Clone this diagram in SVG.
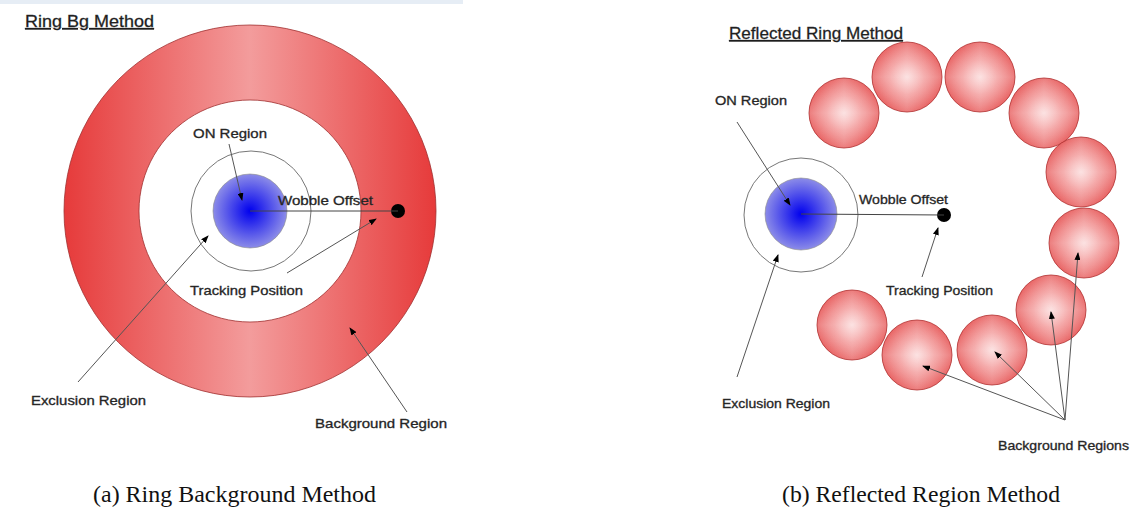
<svg xmlns="http://www.w3.org/2000/svg" width="1134" height="514" viewBox="0 0 1134 514">
<style>
.lbl{font-family:"Liberation Sans",Arial,sans-serif;font-size:13.5px;fill:#1a1a1a;stroke:#333;stroke-width:0.35;}
.ttl{font-family:"Liberation Sans",Arial,sans-serif;font-size:16px;fill:#1a1a1a;stroke:#333;stroke-width:0.3;text-decoration:underline;}
.cap{font-family:"Liberation Serif","Times New Roman",serif;font-size:23px;fill:#111;}
.con{stroke:#555;stroke-width:1;fill:none;marker-end:url(#ah);}
.excl{fill:none;stroke:#777;stroke-width:1;}
</style>
<defs>
<marker id="ah" markerWidth="8" markerHeight="6" refX="7" refY="3" orient="auto" markerUnits="userSpaceOnUse">
<path d="M0,0 L8,3 L0,6 Z" fill="#000"/>
</marker>
<linearGradient id="ringg" x1="63" y1="0" x2="437" y2="0" gradientUnits="userSpaceOnUse">
<stop offset="0" stop-color="#e63a3a"/>
<stop offset="0.5" stop-color="#f39c9c"/>
<stop offset="1" stop-color="#e63a3a"/>
</linearGradient>
<radialGradient id="blueg" cx="0.5" cy="0.5" r="0.5">
<stop offset="0" stop-color="#0000ee"/>
<stop offset="1" stop-color="#8c8ce8"/>
</radialGradient>
<radialGradient id="ballg" cx="0.5" cy="0.5" r="0.5">
<stop offset="0" stop-color="#f9c4c4"/>
<stop offset="0.5" stop-color="#ef7a7a"/>
<stop offset="1" stop-color="#e44646"/>
</radialGradient>
<linearGradient id="hband" x1="0" y1="0" x2="1" y2="0">
<stop offset="0" stop-color="#fff" stop-opacity="0"/>
<stop offset="0.5" stop-color="#fff" stop-opacity="0.3"/>
<stop offset="1" stop-color="#fff" stop-opacity="0"/>
</linearGradient>
<linearGradient id="vband" x1="0" y1="0" x2="0" y2="1">
<stop offset="0" stop-color="#fff" stop-opacity="0"/>
<stop offset="0.5" stop-color="#fff" stop-opacity="0.3"/>
<stop offset="1" stop-color="#fff" stop-opacity="0"/>
</linearGradient>
<symbol id="ball" viewBox="-36 -36 72 72" overflow="visible">
<circle r="35" fill="url(#ballg)"/>
<circle r="35" fill="url(#hband)"/>
<circle r="35" fill="url(#vband)" stroke="#b03030" stroke-width="0.8"/>
</symbol>
</defs>
<rect x="0" y="0" width="463" height="4" fill="#e6edf5"/>
<g id="left">
<g id="title-a"><text class="ttl" x="25" y="27" textLength="129" lengthAdjust="spacingAndGlyphs">Ring Bg Method</text></g>
<g id="bg-ring">
<path d="M250,25 a186,186 0 1,0 0.01,0 Z M250,100 a111,111 0 1,1 -0.01,0 Z" fill="url(#ringg)" fill-rule="evenodd" stroke="#a03030" stroke-width="0.8"/>
</g>
<g id="exclusion-a"><circle class="excl" cx="251" cy="211" r="60"/></g>
<g id="on-a"><circle cx="250" cy="211" r="37" fill="url(#blueg)" stroke="#888" stroke-width="0.6"/></g>
<g id="track-a"><circle cx="398" cy="211" r="7" fill="#000"/></g>
<g id="labels-a">
<text class="lbl" x="193" y="138" textLength="74" lengthAdjust="spacingAndGlyphs">ON Region</text>
<text class="lbl" x="278" y="205" textLength="95" lengthAdjust="spacingAndGlyphs">Wobble Offset</text>
<text class="lbl" x="190" y="295" textLength="113" lengthAdjust="spacingAndGlyphs">Tracking Position</text>
<text class="lbl" x="31" y="405" textLength="115" lengthAdjust="spacingAndGlyphs">Exclusion Region</text>
<text class="lbl" x="315" y="428" textLength="132" lengthAdjust="spacingAndGlyphs">Background Region</text>
</g>
</g>
<g id="right">
<g id="title-b"><text class="ttl" x="729" y="39" textLength="174" lengthAdjust="spacingAndGlyphs">Reflected Ring Method</text></g>
<g id="balls">
<use href="#ball" x="808" y="77" width="72" height="72"/>
<use href="#ball" x="871" y="41" width="72" height="72"/>
<use href="#ball" x="944" y="41" width="72" height="72"/>
<use href="#ball" x="1008" y="77" width="72" height="72"/>
<use href="#ball" x="1045" y="136" width="72" height="72"/>
<use href="#ball" x="1048" y="207" width="72" height="72"/>
<use href="#ball" x="1015" y="274" width="72" height="72"/>
<use href="#ball" x="956" y="314" width="72" height="72"/>
<use href="#ball" x="881" y="319" width="72" height="72"/>
<use href="#ball" x="816" y="289" width="72" height="72"/>
</g>
<g id="exclusion-b"><circle class="excl" cx="801" cy="215" r="57"/></g>
<g id="on-b"><circle cx="801" cy="214" r="36" fill="url(#blueg)" stroke="#888" stroke-width="0.6"/></g>
<g id="track-b"><circle cx="944" cy="215" r="7" fill="#000"/></g>
<g id="labels-b">
<text class="lbl" x="715" y="105" textLength="72" lengthAdjust="spacingAndGlyphs">ON Region</text>
<text class="lbl" x="859" y="204" textLength="89" lengthAdjust="spacingAndGlyphs">Wobble Offset</text>
<text class="lbl" x="886" y="295" textLength="107" lengthAdjust="spacingAndGlyphs">Tracking Position</text>
<text class="lbl" x="722" y="408" textLength="108" lengthAdjust="spacingAndGlyphs">Exclusion Region</text>
<text class="lbl" x="998" y="450" textLength="131" lengthAdjust="spacingAndGlyphs">Background Regions</text>
</g>
</g>
<g id="connectors">
<line x1="250" y1="211" x2="398" y2="211" stroke="#444" stroke-width="1"/>
<line class="con" x1="229" y1="144" x2="242" y2="200"/>
<line class="con" x1="287" y1="273" x2="376" y2="219"/>
<line class="con" x1="78" y1="382" x2="208" y2="236"/>
<line class="con" x1="407" y1="412" x2="350" y2="328"/>
<line x1="801" y1="214" x2="944" y2="215" stroke="#444" stroke-width="1"/>
<line class="con" x1="737" y1="122" x2="790" y2="205"/>
<line class="con" x1="737" y1="377" x2="778" y2="255"/>
<line class="con" x1="922" y1="277" x2="938" y2="228"/>
<line class="con" x1="1065" y1="420" x2="923" y2="366"/>
<line class="con" x1="1065" y1="420" x2="995" y2="352"/>
<line class="con" x1="1065" y1="420" x2="1051" y2="312"/>
<line class="con" x1="1065" y1="420" x2="1078" y2="253"/>
</g>
<g id="captions">
<text class="cap" x="93" y="502" textLength="283" lengthAdjust="spacingAndGlyphs">(a) Ring Background Method</text>
<text class="cap" x="782" y="502" textLength="278" lengthAdjust="spacingAndGlyphs">(b) Reflected Region Method</text>
</g>
</svg>
